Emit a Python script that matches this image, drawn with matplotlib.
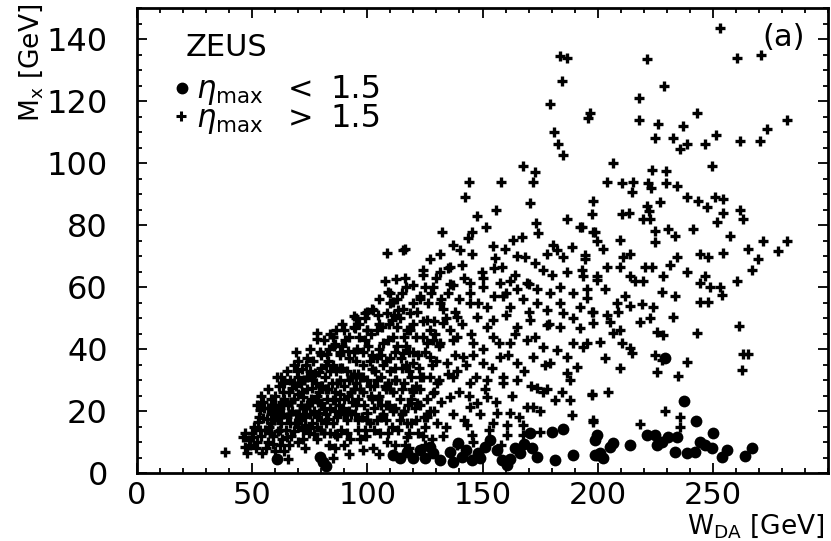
import matplotlib
matplotlib.use("Agg")
import matplotlib.pyplot as plt
import numpy as np
from matplotlib.ticker import MultipleLocator

# W_DA [GeV], M_X [GeV], eta_max > 1.5 (crosses)
plus_high = [
    (183.5, 134.5), (186.6, 134), (184.4, 126.4), (179.2, 119), (196.5, 116), (195.7, 114.5),
    (180.9, 110), (182.6, 106), (184.8, 102.5), (167.5, 99), (172.7, 97), (171.8, 94),
    (144, 94), (157.9, 94), (142.3, 89), (252.9, 143.5), (221.3, 133.5), (260.7, 134),
    (270.7, 135), (228.6, 125), (217.8, 121), (217.8, 114), (226, 112.5), (236.9, 112),
    (243, 116), (282, 114), (273.3, 111), (224.7, 108), (232.5, 108), (238.6, 106),
    (235.6, 104.5), (246.4, 106), (251.2, 109), (261.6, 107), (270.3, 107), (206.5, 100),
    (249.5, 99), (223.4, 97.6), (229.5, 97.3), (203.9, 94), (210.4, 93.7), (215.2, 94),
    (221.7, 93.7), (229.5, 93.7), (234.3, 92.5), (214.8, 90.8), (223, 91.8), (197.8, 87.6),
    (226.9, 87.3), (238.6, 89), (243.4, 87.6), (247.3, 85.7), (250.8, 89), (254.2, 88.3),
    (254.2, 84), (252, 81), (261.6, 84.7), (262.9, 82), (197.4, 83.4), (210.4, 83.7),
    (213.4, 84), (221.3, 86), (222.1, 84.4), (219.5, 82), (222.6, 81.8), (193.1, 79.5),
    (198.7, 77.6), (209.5, 75.3), (224.7, 78), (224.7, 74.4), (230.4, 78.6), (233.4, 76.3),
    (241.2, 78.6), (257.3, 76.3), (271.6, 74.7), (282.4, 74.7), (278.1, 71.5), (265.1, 72.4),
    (269.4, 68.9), (266.8, 65.6), (254.2, 71), (244.3, 70.5), (247.7, 69.8), (234.3, 69.8),
    (231.2, 67.2), (238.6, 64.7), (246.4, 63.7), (244.3, 61.4), (248.6, 60.1), (252.9, 60),
    (253.8, 57.5), (260.3, 62), (244.3, 55.3), (247.7, 55.3), (228.2, 63.7), (227.8, 58.5),
    (233.4, 57.2), (223.4, 66.6), (220.4, 66.6), (219.5, 61.8), (216, 61.8), (210.8, 69.8),
    (213.9, 70.5), (209.5, 66.3), (213.9, 63.7), (203.9, 66.6), (202.2, 72.4), (199.6, 74.7),
    (194.4, 68.9), (193.5, 63.4), (199.6, 62.4), (203, 59.2), (195.2, 56.6), (211.7, 57.2),
    (208.2, 55), (213.9, 54), (219.1, 54.6), (223.9, 53.7), (197.8, 52), (203.9, 51),
    (208.7, 52), (205.2, 48.8), (218.2, 48.8), (222.6, 50), (232.5, 50.4), (209.5, 46),
    (206.5, 45.3), (225.6, 45.6), (228.2, 44.6), (243, 45.3), (261.2, 47.5), (200.9, 42.4),
    (210.4, 42), (213.9, 40.4), (193.5, 40.7), (214.8, 38.8), (203, 37.2), (224.7, 38.2),
    (227.8, 36.5), (238.6, 35.9), (262.9, 38.5), (265.1, 38.5), (262.5, 33.3), (209.5, 33.9),
    (225.6, 32.7), (234.7, 31.4), (197.4, 25.5), (204.3, 26.2), (229.1, 20), (235.6, 18.1),
    (235.6, 15), (197.8, 17.1), (218.2, 15.8),
]

plus_mid = [
    (170.5, 87), (155.7, 85), (147.5, 82.8), (186.6, 81.8), (192.2, 79.5), (173.1, 80.8),
    (151.4, 79.2), (132.3, 77.6), (145.3, 77.9), (143.6, 75.7), (163.1, 75.3), (167, 76),
    (174, 77.3), (197.8, 77.6), (116.3, 72.1), (137.1, 73.7), (154.4, 73.1), (159.7, 72.1),
    (180.5, 73.7), (182.2, 72), (188.7, 73), (140.1, 72), (145.3, 70.5), (131.5, 70.5),
    (127.1, 68.9), (155.3, 69.5), (168.3, 69.8), (177.9, 70.5), (184.8, 69.8), (194.4, 70.2),
    (124.1, 65.6), (131.5, 64.7), (135.8, 66.6), (141, 67.2), (149.7, 64.7), (158.4, 66.6),
    (164, 64), (172.7, 67.9), (176.1, 65.6), (180, 64), (186.6, 64.7), (193.1, 65.6),
    (199.6, 63.4), (119.7, 60.8), (128.4, 60.1), (137.1, 60.8), (144.5, 58.2), (144.5, 55),
    (144.5, 61.4), (150.1, 60), (157.5, 61.4), (164.9, 59.2), (169.2, 61.4), (173.5, 59.2),
    (179.2, 58), (183.5, 60), (189.2, 58.2), (195.2, 59.2), (122.8, 56), (131.5, 55),
    (151.8, 53.7), (158.8, 57), (161.8, 53.7), (167.5, 56), (173.5, 55), (177.9, 52.7),
    (183.5, 55), (184.8, 51.7), (192.2, 53.7), (197.4, 52), (189.2, 50.1), (177.9, 47.8),
    (170.5, 49.5), (183.5, 47.2), (192.2, 46.9), (197.8, 48.5), (164.9, 47.2), (154.4, 49.5),
    (147.5, 50.4), (138.8, 50.4), (132.8, 48.5), (125.8, 49.5), (118.4, 51.7), (117.1, 46.2),
    (124.1, 44), (131.5, 42), (138.8, 44), (145.8, 42), (154.4, 44), (161.8, 42),
    (169.2, 43), (176.1, 40.7), (182.2, 39.8), (189.2, 42), (195.2, 42), (186.6, 37.5),
    (190.9, 34.3), (186.6, 32.3), (187.9, 30), (179.2, 35.6), (171.8, 37.5), (164.9, 35.6),
    (157.5, 37.5), (150.1, 35.6), (141.4, 37.5), (134.5, 35.6), (127.1, 37.5), (119.7, 35.6),
    (115.4, 38.8), (122.8, 31), (130.2, 29), (137.1, 31), (144.5, 29), (151.8, 30),
    (158.8, 29), (164.9, 30), (173.5, 27.5), (176.1, 26.2), (181.3, 23.6), (187.9, 23.6),
    (184.4, 26.2), (197.4, 25.2), (188.7, 18.8), (197.8, 16.5), (169.2, 21.3), (171.8, 21.3),
    (161.8, 19.4), (156.2, 19.4), (154.4, 16.2), (160.5, 15.5), (167.5, 15.5), (144.5, 21.3),
    (143.2, 15.5), (145.3, 12.3), (147.5, 22.6), (151.8, 24.6), (135.8, 24.6), (128.4, 25.9),
    (121.5, 22.6), (125.8, 18.1), (117.1, 16.2), (130.2, 16.2), (117.1, 11.6), (160.5, 12.3),
    (167.5, 12.3), (174.8, 13.3), (108.5, 71), (115.4, 71.8), (112.4, 62.7), (108.9, 58.5),
    (111.1, 55.3), (94.1, 50.8), (98.9, 51.7), (102.4, 52.7), (108.5, 51.7), (110.6, 49.5),
    (78.1, 45.3), (78.1, 43.3), (94.6, 46.9), (99.8, 46.2), (85.9, 41.7), (82.4, 38.5),
    (88.1, 39.1), (60.7, 31), (77.2, 32.3), (54.7, 23), (53.4, 20.4), (54.7, 17.8),
    (46, 11.6), (46.9, 8.4), (38.2, 6.8), (47.7, 6.4), (54.2, 6.4), (65.5, 4.5),
]

plus_dense = [
    (49, 9), (50, 13), (51, 15), (52, 10), (53, 18), (54, 12), (55, 21), (55.5, 14),
    (50.5, 11.5), (52.5, 16.5), (56, 8), (54, 25),
    (57, 10), (57.5, 15), (58, 19), (58.5, 22), (59, 12), (59.5, 17), (60, 25), (60.5, 20),
    (61, 13.5), (61.5, 28), (62, 9), (62.5, 16), (63, 23), (63.5, 19), (57, 27), (60, 7),
    (63, 11), (58, 13),
    (64.5, 14), (65, 18), (65.5, 22), (66, 26), (66.5, 30), (67, 12), (67.5, 20), (68, 24),
    (68.5, 16), (69, 28), (69.5, 33), (70, 10), (70.5, 19), (71, 22), (71.5, 26), (72, 14),
    (64, 29), (66, 9), (68, 35), (70, 31), (71, 17), (72, 24.5),
    (72.5, 30), (73, 18), (73.5, 21), (74, 27), (74.5, 13), (75, 33), (75.5, 24), (76, 16),
    (76.5, 36), (77, 20), (77.5, 29), (78, 11), (78.5, 23), (79, 26), (79.5, 39), (80, 17),
    (73, 8), (75, 14.5), (77, 31.5), (79, 19.5), (80, 34), (74, 37), (76, 27.5), (78, 15),
    (80, 22.5),
    (80.5, 28), (81, 13), (81.5, 31), (82, 19), (82.5, 24), (83, 36), (83.5, 9), (84, 21),
    (84.5, 29), (85, 16), (85.5, 41), (86, 26), (86.5, 33), (87, 12), (87.5, 22), (88, 38),
    (81, 43), (83, 27), (85, 35), (87, 18), (88, 30), (82, 16), (84, 45), (86, 20),
    (88, 25.5), (86, 8),
    (88.5, 14), (89, 34), (89.5, 21), (90, 28), (90.5, 43), (91, 17), (91.5, 25), (92, 37),
    (92.5, 11), (93, 31), (93.5, 23), (94, 47), (94.5, 19), (95, 29), (95.5, 40), (96, 14),
    (89, 48), (91, 33), (93, 26), (95, 36), (90, 9), (92, 20), (94, 32), (96, 24),
    (96.5, 44), (97, 27), (97.5, 18), (98, 35), (98.5, 22), (99, 50), (99.5, 12), (100, 30),
    (100.5, 41), (101, 16), (101.5, 25), (102, 38), (102.5, 8), (103, 21), (103.5, 33),
    (104, 46), (97, 31), (99, 14), (101, 36), (103, 28), (98, 39), (100, 19.5), (102, 53),
    (104, 17),
    (104.5, 24), (105, 40), (105.5, 13), (106, 31), (106.5, 47), (107, 19), (107.5, 28),
    (108, 36), (108.5, 10), (109, 43), (109.5, 22), (110, 33), (110.5, 15), (111, 26),
    (111.5, 51), (112, 39), (105, 56), (107, 35), (109, 29), (111, 44), (106, 22), (108, 17),
    (110, 58), (112, 21),
    (112.5, 30), (113, 47), (113.5, 14), (114, 24), (114.5, 37), (115, 19), (115.5, 53),
    (116, 29), (116.5, 9), (117, 41), (117.5, 22), (118, 33), (118.5, 46), (119, 16),
    (119.5, 27), (120, 39), (113, 56), (115, 34), (117, 60), (119, 31),
    (120.5, 21), (121, 44), (122, 13), (122.5, 34), (123, 27), (124, 49), (124.5, 18),
    (125, 39), (126, 24), (126.5, 55), (127, 31), (128, 11), (128.5, 43), (129, 20),
    (130, 36), (121, 28), (123, 57), (125, 9), (127, 46), (129, 26),
    (131, 41), (132, 23), (133, 53), (134, 15), (135, 32), (136, 46), (137, 19), (138, 38),
    (139, 9), (140, 26), (131, 30), (133, 12), (135, 58), (137, 43), (139, 33),
    (141, 48), (142, 17), (143, 35), (144, 25), (145, 45), (146, 10), (147, 31), (148, 55),
    (149, 19), (150, 40), (142, 63), (146, 38),
    (151, 27), (152, 47), (153, 14), (154, 34), (155, 57), (156, 23), (157, 42), (158, 9),
    (159, 31), (160, 51),
    (161, 38), (163, 25), (164, 45), (166, 18), (168, 33), (170, 52), (171, 28), (173, 44),
    (175, 20), (177, 35), (179, 48), (162, 62), (178, 27),
]

plus_core = [
    (47, 13), (48.5, 10.5), (51.5, 8), (53.5, 14), (56.5, 17.5), (58, 24), (59, 9.5),
    (61, 18), (62, 21), (63.5, 26), (64, 7), (65, 11.5), (66.5, 16), (67, 23), (68, 13.5),
    (69, 19), (70, 25.5), (71, 29), (72, 11), (73, 15.5), (74, 22), (75, 19), (76, 30),
    (77, 12.5), (78, 25), (79, 32.5), (80, 14), (81, 20.5), (82, 27), (83, 17.5), (84, 33),
    (85, 23.5), (86, 12.5), (87, 29), (88, 19.5), (89, 41), (90, 24), (91, 13), (92, 30),
    (93, 19), (94, 39), (95, 22), (96, 32), (97, 11), (98, 26), (99, 43), (100, 17),
    (101, 28), (102, 33.5), (103, 14), (104, 37), (105, 25), (106, 18), (107, 42), (108, 27),
    (109, 13), (110, 37), (111, 20), (112, 30), (113, 41), (114, 17), (115, 27), (116, 44),
    (117, 35), (118, 13), (119, 24), (120, 48), (121, 17), (122, 38), (123, 22), (124, 31),
    (125, 15), (126, 42), (127, 20), (128, 35), (129, 49),
    (58, 16), (60, 22), (62, 14), (64, 24), (66, 19), (68, 29), (70, 15), (72, 21), (74, 31),
    (76, 23), (78, 18), (80, 28), (82, 35), (84, 13), (86, 24), (88, 34), (90, 19), (92, 44),
    (94, 27), (96, 17), (98, 31), (100, 46), (102, 24), (104, 30), (106, 38), (108, 22),
    (110, 27), (112, 34), (114, 50), (116, 20), (118, 39), (120, 26),
    (65, 33), (70, 36), (75, 40), (80, 38), (85, 44), (90, 46), (95, 50), (100, 52),
    (105, 48), (110, 55), (115, 58), (120, 55), (125, 60), (130, 63), (135, 66), (132, 56),
    (138, 52), (150, 63), (155, 66), (160, 58), (165, 70), (170, 61),
    (85, 5), (92, 6), (98, 7.5), (105, 6), (112, 9), (118, 8), (124, 12),
    (62.5, 31), (67.5, 27.5), (71.5, 33.5), (73.5, 35), (101.5, 45), (104.5, 51),
    (107.5, 62), (109.5, 48), (113.5, 52.5), (116.5, 63), (121.5, 52), (124, 64),
    (127.5, 58), (129.5, 45), (134, 50), (136, 61), (140, 56), (96.5, 48), (91.5, 39.5),
    (86.5, 46), (83.5, 40), (69, 39), (57, 21), (52, 22),
]

# eta_max < 1.5 (dots)
dots = [
    (229.1, 37), (237.3, 23.3), (242.5, 16.8), (249.9, 13), (221.3, 12.3), (224.7, 12.3),
    (230.4, 11.6), (234.3, 11.6), (225.6, 9), (227.8, 10), (244.3, 10), (246.4, 9),
    (249.5, 8), (233.4, 6.8), (238.6, 6.4), (242.1, 6.8), (256, 7.4), (253.8, 5.2),
    (267.2, 8), (263.8, 5.5), (213.9, 9), (199.6, 12.3), (198.7, 10.7), (206.5, 9.7),
    (205.2, 8.4), (200.9, 6.4), (198.7, 5.8), (202.2, 4.8), (184.8, 14.2), (180, 13.3),
    (117.1, 6.8), (122.8, 7.4), (125, 4.8), (128.4, 6.4), (131.5, 4.2), (135.8, 6.8),
    (139.3, 9.7), (141, 5.2), (145.3, 4.2), (147.9, 6.4), (151, 8.4), (153.1, 10.7),
    (156.2, 7.4), (158.4, 4.2), (160.5, 2.6), (164, 8.1), (166.2, 6.4), (171.4, 8.1),
    (173.5, 5.2), (181.3, 4.2), (189.2, 5.8), (199.6, 5.8), (60.7, 4.5), (79.4, 5.2),
    (80.7, 3.6), (82, 2.3), (111.1, 5.8), (114.1, 4.8), (119.7, 5), (170.5, 13),
    (143, 7.5), (149, 5), (162, 4.5), (168, 9.5), (137, 3.5), (127, 8.5),
]

xticks = [0, 50, 100, 150, 200, 250]
yticks = [0, 20, 40, 60, 80, 100, 120, 140]

plus = np.array(plus_high + plus_mid + plus_dense + plus_core)
dot = np.array(dots)

W, H = 831, 541
fig = plt.figure(figsize=(W / 100, H / 100), dpi=100)
ax = fig.add_axes([137 / W, 1 - 473 / H, (828 - 137) / W, (473 - 8) / H])

ax.plot(plus[:, 0], plus[:, 1], ls="none", marker="+", ms=7.5, mew=2.4, color="black")
ax.plot(dot[:, 0], dot[:, 1], ls="none", marker="o", ms=8.5, mec="black", mfc="black", mew=0)

ax.set_xlim(0, 300)
ax.set_ylim(0, 150)
ax.set_xticks(xticks)
ax.set_yticks(yticks)
ax.xaxis.set_minor_locator(MultipleLocator(10))
ax.yaxis.set_minor_locator(MultipleLocator(5))
ax.tick_params(which="both", direction="in", top=True, right=True, width=1.3, color="black")
ax.tick_params(which="major", length=7)
ax.tick_params(which="minor", length=3.5)
ax.tick_params(axis="x", labelsize=22, pad=6)
ax.tick_params(axis="y", labelsize=23, pad=21)
for s in ax.spines.values():
    s.set_linewidth(2)

# axis titles, placed as in the original figure
fig.text(31 / W, 1 - 4 / H, r"M$_{\rm x}$ [GeV]", rotation=90, fontsize=19,
         ha="center", va="top")
fig.text(824 / W, 1 - 533 / H, r"W$_{\rm DA}$ [GeV]", fontsize=19, ha="right", va="baseline")

# in-plot labels
fig.text(186 / W, 1 - 56 / H, "ZEUS", fontsize=22, va="baseline")
fig.text(762 / W, 1 - 46 / H, "(a)", fontsize=22, va="baseline")
fig.lines.append(plt.Line2D([182 / W], [1 - 88 / H], transform=fig.transFigure,
                            marker="o", ms=7.5, color="black", ls="none"))
fig.lines.append(plt.Line2D([181 / W], [1 - 116 / H], transform=fig.transFigure,
                            marker="+", ms=7, mew=2.2, color="black", ls="none"))
fig.text(196 / W, 1 - 98 / H, r"$\eta_{\rm max}$", fontsize=22, va="baseline")
fig.text(288 / W, 1 - 98 / H, "<", fontsize=22, va="baseline")
fig.text(330 / W, 1 - 98 / H, "1.5", fontsize=23, va="baseline")
fig.text(196 / W, 1 - 127 / H, r"$\eta_{\rm max}$", fontsize=22, va="baseline")
fig.text(288 / W, 1 - 127 / H, ">", fontsize=22, va="baseline")
fig.text(330 / W, 1 - 127 / H, "1.5", fontsize=23, va="baseline")

fig.savefig("out.png", dpi=100)
